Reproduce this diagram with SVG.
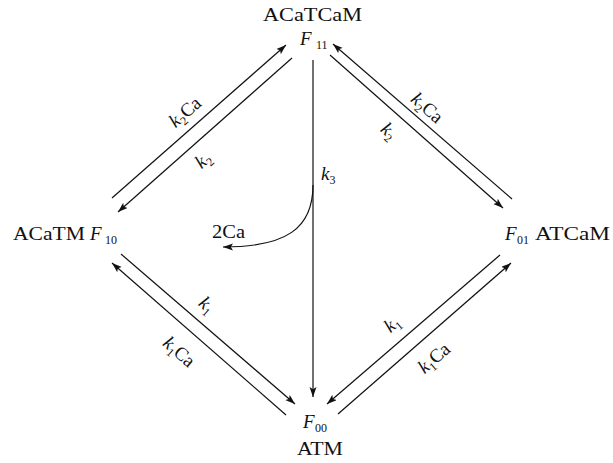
<svg xmlns="http://www.w3.org/2000/svg" width="613" height="463" viewBox="0 0 613 463">
<defs>
<style>
.t{font-family:"Liberation Serif","Times New Roman",serif;font-size:19px;fill:#111}
.i{font-style:italic}
.s{font-size:12px;font-style:normal}
.e{stroke:#111;stroke-width:1.2;fill:none;marker-end:url(#ah)}
.p{stroke:#111;stroke-width:1.2;fill:none}
</style>
<marker id="ah" markerUnits="userSpaceOnUse" markerWidth="11" markerHeight="8" refX="10" refY="3.5" orient="auto">
<path d="M0,0 L10,3.5 L0,7 L2.2,3.5 z" fill="#111"/>
</marker>
</defs>
<rect width="613" height="463" fill="#fff"/>
<g id="connectors">
<line class="e" x1="112" y1="198" x2="286" y2="45"/>
<line class="e" x1="292" y1="58" x2="118" y2="212"/>
<line class="e" x1="512" y1="199" x2="333" y2="44"/>
<line class="e" x1="330" y1="55" x2="503" y2="208"/>
<line class="e" x1="121" y1="254" x2="295" y2="404"/>
<line class="e" x1="286" y1="415" x2="112" y2="263"/>
<line class="e" x1="500" y1="255" x2="327" y2="404"/>
<line class="e" x1="338" y1="414" x2="511" y2="263"/>
<line class="e" x1="313" y1="60" x2="313" y2="397"/>
<path class="e" d="M313,185 C313,228 287,247 223,247"/>
<g class="t">
<g transform="translate(185,112) rotate(-41)"><text text-anchor="middle" y="6"><tspan class="i">k</tspan><tspan class="s" dy="4">2</tspan><tspan dy="-4">Ca</tspan></text></g>
<g transform="translate(203,160) rotate(-41)"><text text-anchor="middle" y="6"><tspan class="i">k</tspan><tspan class="s" dy="4">2</tspan></text></g>
<g transform="translate(427,108) rotate(41)"><text text-anchor="middle" y="6"><tspan class="i">k</tspan><tspan class="s" dy="4">2</tspan><tspan dy="-4">Ca</tspan></text></g>
<g transform="translate(389,131) rotate(41)"><text text-anchor="middle" y="6"><tspan class="i">k</tspan><tspan class="s" dy="4">2</tspan></text></g>
<g transform="translate(207,305) rotate(41)"><text text-anchor="middle" y="6"><tspan class="i">k</tspan><tspan class="s" dy="4">1</tspan></text></g>
<g transform="translate(179,352) rotate(41)"><text text-anchor="middle" y="6"><tspan class="i">k</tspan><tspan class="s" dy="4">1</tspan><tspan dy="-4">Ca</tspan></text></g>
<g transform="translate(392,324) rotate(-41)"><text text-anchor="middle" y="6"><tspan class="i">k</tspan><tspan class="s" dy="4">1</tspan></text></g>
<g transform="translate(434,358) rotate(-41)"><text text-anchor="middle" y="6"><tspan class="i">k</tspan><tspan class="s" dy="4">1</tspan><tspan dy="-4">Ca</tspan></text></g>
<text x="321" y="180"><tspan class="i">k</tspan><tspan class="s" dy="4">3</tspan></text>
<text x="212" y="238" textLength="33" lengthAdjust="spacingAndGlyphs">2Ca</text>
</g>
</g>
<g id="F11" class="t">
<text x="263" y="21" textLength="99" lengthAdjust="spacingAndGlyphs">ACaTCaM</text>
<text x="300" y="45"><tspan class="i">F</tspan></text>
<text x="316" y="49" class="s">11</text>
</g>
<g id="F10" class="t">
<text x="13" y="240" textLength="72" lengthAdjust="spacingAndGlyphs">ACaTM</text>
<text x="90" y="240" class="i">F</text>
<text x="105" y="244" class="s">10</text>
</g>
<g id="F01" class="t">
<text x="505" y="240" class="i">F</text>
<text x="517" y="244" class="s">01</text>
<text x="535" y="240" textLength="75" lengthAdjust="spacingAndGlyphs">ATCaM</text>
</g>
<g id="F00" class="t">
<text x="303" y="428" class="i">F</text>
<text x="315" y="432" class="s">00</text>
<text x="297" y="455" textLength="46" lengthAdjust="spacingAndGlyphs">ATM</text>
</g>
</svg>
